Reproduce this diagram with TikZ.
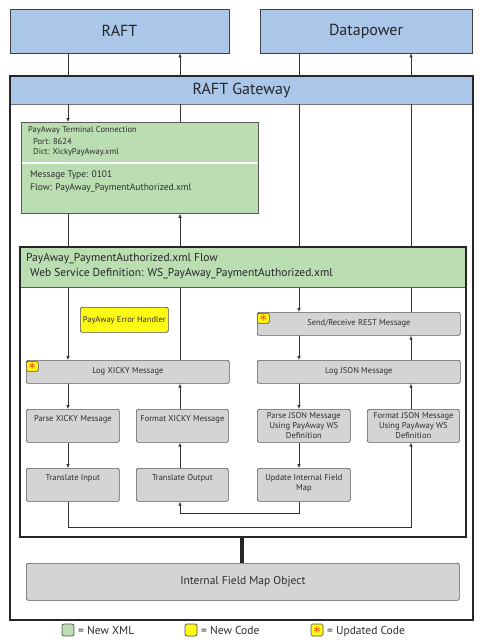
\documentclass[tikz,border=0pt]{standalone}
\usepackage{fontspec}
\setmainfont{PT Sans}
\usetikzlibrary{arrows.meta}

\definecolor{raftblue}{RGB}{170,199,234}
\definecolor{xmlgreen}{RGB}{186,221,178}
\definecolor{procgray}{RGB}{212,212,212}
\definecolor{codeyellow}{RGB}{255,250,20}
\definecolor{inkgray}{RGB}{45,45,45}

\tikzset{
  sysbox/.style={draw=black!75, fill=raftblue, line width=0.8pt, inner sep=0,
    text=black!85, font=\fontsize{16}{18}\selectfont},
  xmlbox/.style={draw=black!65, fill=xmlgreen, line width=0.8pt, inner sep=0},
  procbox/.style={draw=black!65, fill=procgray, line width=0.7pt, rounded corners=2pt,
    inner sep=0, text=inkgray, font=\fontsize{8.5}{10}\selectfont, align=center},
  toptext/.style={text height=6.5pt, text depth=16pt, inner ysep=4pt},
  toptwo/.style={text height=16.5pt, text depth=6pt, inner ysep=4pt},
  newcode/.style={draw=black!70, fill=codeyellow, line width=0.7pt, rounded corners=2pt,
    inner sep=0, text=inkgray, font=\fontsize{8.5}{10}\selectfont},
  updmark/.style={draw=black!70, fill=codeyellow, line width=0.6pt, rounded corners=1.5pt,
    minimum width=12, minimum height=10, inner sep=0, text=red, font=\fontsize{14}{14}\selectfont},
  flow/.style={draw=black!80, line width=0.6pt, -{Latex[length=4pt,width=3.5pt]}},
  wire/.style={draw=black!80, line width=0.6pt}
}

\begin{document}
\begin{tikzpicture}[x=1pt,y=-1pt]
\useasboundingbox (0,0) rectangle (483,643);

% outside systems
\node[sysbox, minimum width=219, minimum height=44] (raft) at (119.5,31) {RAFT};
\node[sysbox, minimum width=212, minimum height=44] (dp) at (366,31) {Datapower};

% gateway
\node[sysbox, draw=black!55, minimum width=463, minimum height=28] (gw) at (241.5,90) {RAFT Gateway};
\draw[line width=2pt, black!85] (10,76) rectangle (473,620);

% line positions
\coordinate (xa) at (68,0);
\coordinate (xb) at (180,0);
\coordinate (xc) at (299,0);
\coordinate (xd) at (411,0);
\coordinate (ya) at (0,513);
\coordinate (yb) at (0,527);

% terminal connection
\node[xmlbox, anchor=north west, minimum width=237, minimum height=91] (term) at (21,122) {};
\draw[white, line width=1.5pt] (21.6,163) -- (257.4,163);
\node[anchor=base west, inner sep=0, font=\fontsize{8.5}{10}\selectfont, text=inkgray] (tc1) at (28,132) {PayAway Terminal Connection};
\node[anchor=base west, inner sep=0, font=\fontsize{8.5}{10}\selectfont, text=inkgray] (tc2) at (33,144) {Port: 8624};
\node[anchor=base west, inner sep=0, font=\fontsize{8.5}{10}\selectfont, text=inkgray] (tc3) at (33,154) {Dict: XickyPayAway.xml};
\node[anchor=base west, inner sep=0, font=\fontsize{9.5}{11}\selectfont, text=inkgray] (tc4) at (30,177) {Message Type: 0101};
\node[anchor=base west, inner sep=0, font=\fontsize{9.5}{11}\selectfont, text=inkgray] (tc5) at (30,190) {Flow: PayAway\_PaymentAuthorized.xml};

% flow
\node[xmlbox, anchor=north west, minimum width=446, minimum height=40] (fh) at (20,247) {};
\draw[line width=1.5pt, black!85] (20,247) rectangle (466,537);
\node[anchor=base west, inner sep=0, font=\fontsize{11.5}{13}\selectfont, text=black!85] (fh1) at (26,261) {PayAway\_PaymentAuthorized.xml Flow};
\node[anchor=base west, inner sep=0, font=\fontsize{11.5}{13}\selectfont, text=black!85] (fh2) at (30,276) {Web Service Definition: WS\_PayAway\_PaymentAuthorized.xml};

\node[newcode, anchor=north west, minimum width=88, minimum height=25] (err) at (80,307) {PayAway Error Handler};
\node[procbox, anchor=north west, minimum width=203, minimum height=23] (rest) at (257,312) {Send/Receive REST Message};
\node[procbox, anchor=north west, minimum width=203, minimum height=23] (logx) at (26,360) {Log XICKY Message};
\node[procbox, anchor=north west, minimum width=203, minimum height=23] (logj) at (257,360) {Log JSON Message};

\node[procbox, toptext, anchor=north west, minimum width=93, minimum height=33] (px) at (26,409) {Parse XICKY Message};
\node[procbox, toptext, anchor=north west, minimum width=92, minimum height=33] (fx) at (136,409) {Format XICKY Message};
\node[procbox, anchor=north west, minimum width=93, minimum height=33] (pj) at (257,409) {Parse JSON Message\\Using PayAway WS\\Definition};
\node[procbox, anchor=north west, minimum width=92, minimum height=33] (fj) at (367,409) {Format JSON Message\\Using PayAway WS\\Definition};
\node[procbox, toptext, anchor=north west, minimum width=93, minimum height=33] (tin) at (26,468) {Translate Input};
\node[procbox, toptext, anchor=north west, minimum width=92, minimum height=33] (tout) at (136,468) {Translate Output};
\node[procbox, toptwo, anchor=north west, minimum width=93, minimum height=33] (upd) at (257,468) {Update Internal Field\\Map};

\node[updmark, anchor=north west] (m1) at (257,313) {$\ast$};
\node[updmark, anchor=north west] (m2) at (26,361) {$\ast$};

% field map object
\node[procbox, anchor=north west, minimum width=433, minimum height=37, font=\fontsize{11.5}{13}\selectfont] (ifmo) at (26,563) {Internal Field Map Object};
\draw[line width=4pt, black!85] (242,537) -- (ifmo.north -| 242,0);

% RAFT side
\draw[wire] (raft.south -| xa) -- (gw.north -| xa);
\draw[flow] (gw.south -| xa) -- (term.north -| xa);
\draw[wire] (term.south -| xa) -- (fh.north -| xa);
\draw[flow] (fh.south -| xa) -- (logx.north -| xa);
\draw[flow] (logx.south -| xa) -- (px.north -| xa);
\draw[flow] (px.south -| xa) -- (tin.north -| xa);
\draw[flow] (tout.north -| xb) -- (fx.south -| xb);
\draw[flow] (fx.north -| xb) -- (logx.south -| xb);
\draw[wire] (logx.north -| xb) -- (fh.south -| xb);
\draw[flow] (fh.north -| xb) -- (term.south -| xb);
\draw[wire] (term.north -| xb) -- (gw.south -| xb);
\draw[flow] (gw.north -| xb) -- (raft.south -| xb);

% Datapower side
\draw[wire] (dp.south -| xc) -- (gw.north -| xc);
\draw[wire] (gw.south -| xc) -- (fh.north -| xc);
\draw[flow] (fh.south -| xc) -- (rest.north -| xc);
\draw[flow] (rest.south -| xc) -- (logj.north -| xc);
\draw[flow] (logj.south -| xc) -- (pj.north -| xc);
\draw[flow] (pj.south -| xc) -- (upd.north -| xc);
\draw[flow] (fj.north -| xd) -- (logj.south -| xd);
\draw[flow] (logj.north -| xd) -- (rest.south -| xd);
\draw[wire] (rest.north -| xd) -- (fh.south -| xd);
\draw[wire] (fh.north -| xd) -- (gw.south -| xd);
\draw[flow] (gw.north -| xd) -- (dp.south -| xd);

% return paths
\draw[flow] (upd.south -| xc) -- (xc |- ya) -- (xb |- ya) -- (tout.south -| xb);
\draw[flow] (tin.south -| xa) -- (xa |- yb) -- (xd |- yb) -- (fj.south -| xd);

% legend
\node[xmlbox, rounded corners=2pt, minimum width=12, minimum height=12] (lg1) at (68,630) {};
\node[anchor=base west, inner sep=0, font=\fontsize{11.5}{13}\selectfont, text=inkgray] (lt1) at (78,634) {= New XML};
\node[newcode, minimum width=12, minimum height=12] (lg2) at (191,630) {};
\node[anchor=base west, inner sep=0, font=\fontsize{11.5}{13}\selectfont, text=inkgray] (lt2) at (201,634) {= New Code};
\node[updmark, minimum width=12, minimum height=12] (lg3) at (317,630) {$\ast$};
\node[anchor=base west, inner sep=0, font=\fontsize{11.5}{13}\selectfont, text=inkgray] (lt3) at (327,634) {= Updated Code};
\end{tikzpicture}
\end{document}
